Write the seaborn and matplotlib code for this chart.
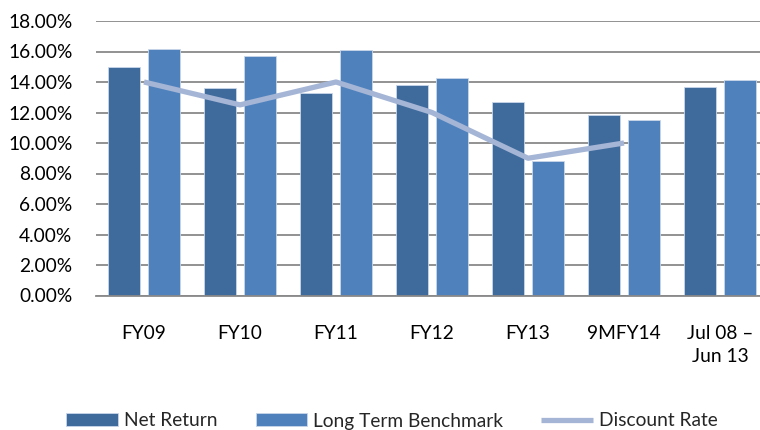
import numpy as np
import pandas as pd
import matplotlib
matplotlib.use("Agg")
import matplotlib.pyplot as plt
import seaborn as sns
from matplotlib.ticker import FuncFormatter, MultipleLocator

categories = ["FY09", "FY10", "FY11", "FY12", "FY13", "9MFY14", "Jul 08 –\nJun 13"]
net_return = [15.0, 13.6, 13.3, 13.8, 12.7, 11.85, 13.65]
long_term_benchmark = [16.15, 15.7, 16.12, 14.25, 8.8, 11.5, 14.15]
discount_rate = [14.0, 12.5, 14.0, 12.0, 9.0, 10.0, np.nan]
series_names = ["Net Return", "Long Term Benchmark"]

sns.set_theme(style="white")
plt.rcParams['font.family'] = ['Lato', 'DejaVu Sans']

df = pd.DataFrame({
    "category": categories * 2,
    "value": net_return + long_term_benchmark,
    "series": [series_names[0]] * len(categories) + [series_names[1]] * len(categories),
})

fig = plt.figure(figsize=(7.6, 4.3), dpi=100)
ax = fig.add_axes([96 / 760, 134.5 / 430, 672 / 760, 274.5 / 430])

palette = {"Net Return": "#3F6A9C", "Long Term Benchmark": "#4F81BD"}
sns.barplot(data=df, x="category", y="value", hue="series", order=categories,
            hue_order=series_names, palette=palette, width=0.833, gap=0.2,
            saturation=1, edgecolor="#C9D6EA", linewidth=0.6, ax=ax, legend=True)

sns.lineplot(x=np.arange(len(categories)), y=discount_rate, color="#A4B5D5",
             linewidth=3.8, ax=ax, label="Discount Rate", solid_capstyle="butt")

ax.set_xlim(-0.5, len(categories) - 0.5)
ax.set_ylim(0, 18)
ax.yaxis.set_major_locator(MultipleLocator(2))
ax.yaxis.set_major_formatter(FuncFormatter(lambda v, p: f"{v:.2f}%"))
ax.grid(axis="y", color="#898989", linewidth=1.3)
ax.set_axisbelow(True)
for s in ["left", "right", "top"]:
    ax.spines[s].set_visible(False)
ax.spines["bottom"].set_color("#898989")
ax.spines["bottom"].set_linewidth(1.3)
ax.set_xlabel("")
ax.set_ylabel("")
ax.tick_params(axis="y", length=0, pad=17, labelsize=13.8, labelcolor="#000000")
ax.tick_params(axis="x", length=0, pad=21, labelsize=13.8, labelcolor="#000000")
for lbl in ax.get_xticklabels():
    lbl.set_multialignment("center")
    lbl.set_linespacing(1.45)

handles, labels = ax.get_legend_handles_labels()
ax.legend(handles, labels, loc="center", bbox_to_anchor=(392 / 760, 9 / 430),
          bbox_transform=fig.transFigure, ncol=3, frameon=False, fontsize=13.8,
          handlelength=2.7, handleheight=0.65, handletextpad=0.3, columnspacing=2.0)

fig.savefig("out.png", dpi=100)
